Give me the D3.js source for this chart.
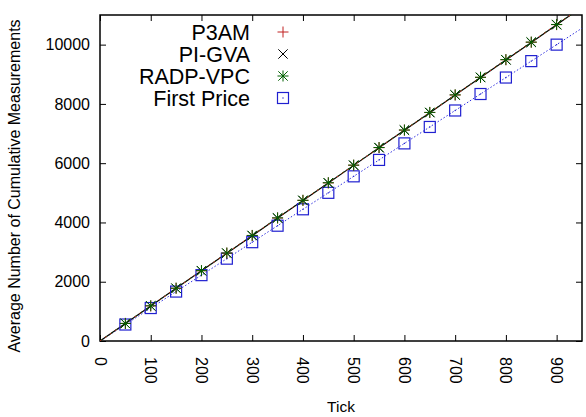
<html>
<head>
<script src="https://d3js.org/d3.v7.min.js"></script>
<style>
body { margin: 0; background: #fff; }
text { font-family: "Liberation Sans", Arial, sans-serif; fill: #000; }
</style>
</head>
<body>
<script>
// data
var ticks = [50, 100, 150, 200, 250, 300, 350, 400, 450, 500, 550, 600, 650, 700, 750, 800, 850, 900];
var p3am = [592, 1185, 1780, 2370, 2965, 3560, 4150, 4745, 5335, 5930, 6525, 7115, 7710, 8300, 8895, 9490, 10080, 10675];
var pigva = [590, 1182, 1776, 2368, 2962, 3555, 4148, 4740, 5332, 5926, 6520, 7112, 7705, 8298, 8890, 9485, 10076, 10670];
var radp = [594, 1188, 1782, 2374, 2968, 3562, 4155, 4748, 5340, 5935, 6528, 7120, 7714, 8306, 8900, 9494, 10086, 10680];
var firstPrice = [556, 1112, 1668, 2222, 2778, 3334, 3890, 4444, 5000, 5556, 6110, 6668, 7222, 7778, 8334, 8890, 9444, 10000];
// line ends (start at origin, run past the last marker)
var lineStart = [0, 0];
var lineEndMain = [950, 11270];
var lineEndFP = [950, 10555];
var xTicks = [0, 100, 200, 300, 400, 500, 600, 700, 800, 900];
var yTicks = [0, 2000, 4000, 6000, 8000, 10000];

var W = 586, H = 417;
var m = {left: 100, right: 4, top: 15, bottom: 76};
var w = W - m.left - m.right, h = H - m.top - m.bottom;

var x = d3.scaleLinear().domain([0, 950]).range([0, w]);
var y = d3.scaleLinear().domain([0, 11000]).range([h, 0]);

var svg = d3.select("body").append("svg").attr("width", W).attr("height", H);
svg.append("defs").append("clipPath").attr("id", "clip")
  .append("rect").attr("width", w).attr("height", h);
var g = svg.append("g").attr("transform", "translate(" + m.left + "," + m.top + ")");

// axes (ticks mirrored on all four sides, pointing inward)
var xb = g.append("g").attr("transform", "translate(0," + h + ")")
  .call(d3.axisBottom(x).tickValues(xTicks).tickSize(-6).tickPadding(0).tickFormat(d3.format("d")));
var xt = g.append("g").call(d3.axisTop(x).tickValues(xTicks).tickSize(-6).tickFormat(""));
var yl = g.append("g").call(d3.axisLeft(y).tickValues(yTicks).tickSize(-6).tickPadding(10).tickFormat(d3.format("d")));
var yr = g.append("g").attr("transform", "translate(" + w + ",0)")
  .call(d3.axisRight(y).tickValues(yTicks).tickSize(-6).tickFormat(""));
[xb, xt, yl, yr].forEach(function(a){
  a.select(".domain").remove();
  a.selectAll("line").attr("stroke", "#000");
});
xb.selectAll("text").attr("font-size", 16).attr("text-anchor", "start")
  .attr("transform", "translate(-6,16) rotate(90)").attr("dy", 0).attr("y", 0).attr("x", 0);
yl.selectAll("text").attr("font-size", 16);
g.append("rect").attr("width", w).attr("height", h).attr("fill", "none").attr("stroke", "#000").attr("stroke-width", 1.5);

// lines
var line = d3.line().x(function(d){ return x(d[0]); }).y(function(d){ return y(d[1]); });
var lg = g.append("g").attr("clip-path", "url(#clip)");
function pts(vals, end){
  return [lineStart].concat(ticks.map(function(t, i){ return [t, vals[i]]; })).concat([end]);
}
lg.append("path").datum(pts(firstPrice, lineEndFP)).attr("d", line).attr("fill", "none")
  .attr("stroke", "#3030e0").attr("stroke-width", 1).attr("stroke-dasharray", "1.5,2");
lg.append("path").datum(pts(pigva, lineEndMain)).attr("d", line).attr("fill", "none")
  .attr("stroke", "#000").attr("stroke-width", 1.2);
lg.append("path").datum(pts(radp, lineEndMain)).attr("d", line).attr("fill", "none")
  .attr("stroke", "#006000").attr("stroke-width", 1).attr("stroke-dasharray", "3,3");
lg.append("path").datum(pts(p3am, lineEndMain)).attr("d", line).attr("fill", "none")
  .attr("stroke", "#c02020").attr("stroke-width", 1).attr("stroke-dasharray", "2,4");

// marker shapes
var s = 5.5;
function plus(sel, c){
  sel.append("path").attr("d", "M" + (-s) + ",0H" + s + "M0," + (-s) + "V" + s)
    .attr("stroke", c).attr("stroke-width", 1).attr("fill", "none");
}
function cross(sel, c){
  var k = s * 0.85;
  sel.append("path").attr("d", "M" + (-k) + "," + (-k) + "L" + k + "," + k + "M" + (-k) + "," + k + "L" + k + "," + (-k))
    .attr("stroke", c).attr("stroke-width", 1).attr("fill", "none");
}
function star(sel, c){ plus(sel, c); cross(sel, c); }
function box(sel, c){
  sel.append("rect").attr("x", -s).attr("y", -s).attr("width", 2 * s).attr("height", 2 * s)
    .attr("fill", "none").attr("stroke", c).attr("stroke-width", 1.2);
  sel.append("rect").attr("x", -0.6).attr("y", -0.6).attr("width", 1.2).attr("height", 1.2).attr("fill", c);
}

var series = [
  {name: "P3AM", vals: p3am, color: "#c02020", shape: plus},
  {name: "PI-GVA", vals: pigva, color: "#000", shape: cross},
  {name: "RADP-VPC", vals: radp, color: "#006000", shape: star},
  {name: "First Price", vals: firstPrice, color: "#2020d0", shape: box}
];

[series[3], series[0], series[1], series[2]].forEach(function(sr){
  g.append("g").selectAll("g").data(ticks).enter().append("g")
    .attr("transform", function(t, i){ return "translate(" + x(t) + "," + y(sr.vals[i]) + ")"; })
    .each(function(){ sr.shape(d3.select(this), sr.color); });
});

// legend
var leg = svg.append("g");
series.forEach(function(sr, i){
  var yy = 32 + i * 22;
  leg.append("text").attr("x", 250).attr("y", yy).attr("dy", "0.35em").attr("text-anchor", "end")
    .attr("font-size", 21.5).text(sr.name);
  var mk = leg.append("g").attr("transform", "translate(283," + yy + ")");
  sr.shape(mk, sr.color);
});

// axis titles
svg.append("text").attr("x", 341).attr("y", 412).attr("text-anchor", "middle").attr("font-size", 15.5).text("Tick");
svg.append("text").attr("transform", "translate(20,186) rotate(-90)").attr("text-anchor", "middle")
  .attr("font-size", 16).text("Average Number of Cumulative Measurements");
</script>
</body>
</html>
